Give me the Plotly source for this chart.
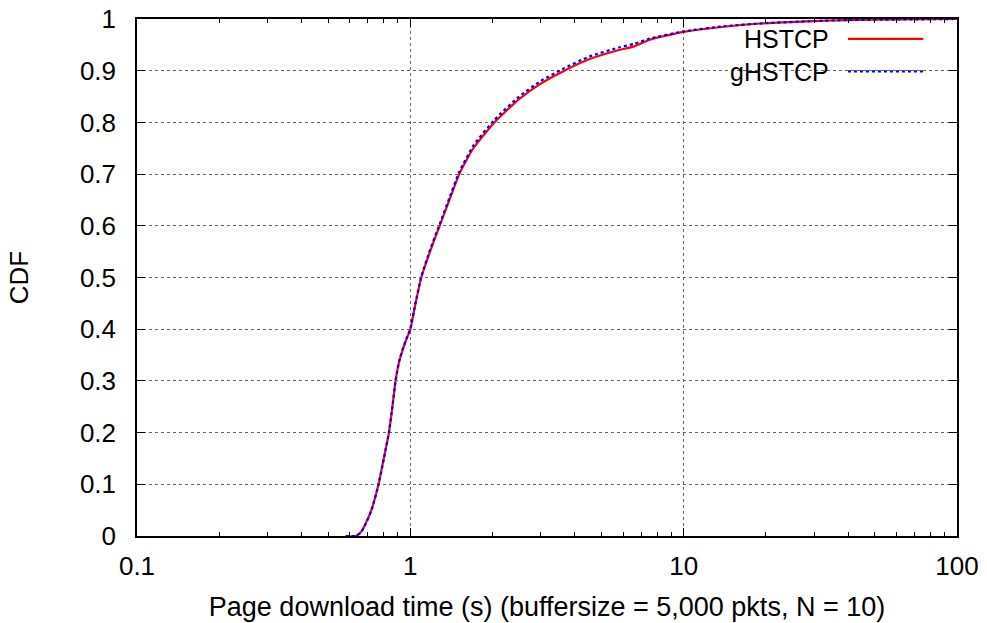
import plotly.graph_objects as go

# Page download time (s) and cumulative fraction for each TCP variant
hstcp_time = [0.58, 0.63, 0.66, 0.68, 0.72, 0.765, 0.80, 0.835, 0.86, 0.883, 0.91, 0.94, 0.97,
              1.0, 1.045, 1.097, 1.18, 1.28, 1.39, 1.51, 1.7, 2.03, 2.5, 3.0, 3.66, 4.5, 5.8,
              6.6, 7.5, 10, 14, 20, 30, 40, 60, 100]
hstcp_cdf = [0, 0, 0.008, 0.02, 0.05, 0.1, 0.15, 0.2, 0.25, 0.3, 0.337, 0.362, 0.382,
             0.4, 0.45, 0.5, 0.55, 0.6, 0.65, 0.7, 0.75, 0.8, 0.845, 0.875, 0.9, 0.922, 0.94,
             0.947, 0.96, 0.975, 0.985, 0.992, 0.996, 0.998, 0.999, 1.0]

ghstcp_time = [0.58, 0.63, 0.66, 0.68, 0.72, 0.765, 0.80, 0.835, 0.86, 0.883, 0.91, 0.94, 0.97,
               1.0, 1.045, 1.097, 1.18, 1.28, 1.39, 1.51, 1.7, 2.03, 2.5, 3.0, 3.66, 4.5, 5.8,
               6.6, 7.5, 10, 14, 20, 30, 40, 60, 100]
ghstcp_cdf = [0, 0, 0.007, 0.019, 0.049, 0.1, 0.15, 0.201, 0.251, 0.301, 0.338, 0.363, 0.383,
              0.401, 0.451, 0.502, 0.553, 0.603, 0.654, 0.704, 0.755, 0.805, 0.85, 0.88, 0.905,
              0.927, 0.945, 0.952, 0.962, 0.976, 0.986, 0.992, 0.996, 0.998, 0.999, 1.0]

series_names = ["HSTCP", "gHSTCP"]
x_ticks = [0.1, 1, 10, 100]
x_tick_text = ["0.1", "1", "10", "100"]
y_ticks = [0, 0.1, 0.2, 0.3, 0.4, 0.5, 0.6, 0.7, 0.8, 0.9, 1]
y_tick_text = ["0", "0.1", "0.2", "0.3", "0.4", "0.5", "0.6", "0.7", "0.8", "0.9", "1"]

FONT = "Liberation Sans, Arial, Helvetica, sans-serif"
FS = 26
TITLE_FS = 27
KEY_FS = 25
RED = "#ff0000"
BLUE = "#0000ff"

fig = go.Figure()
fig.add_trace(go.Scatter(x=hstcp_time, y=hstcp_cdf, mode="lines", name=series_names[0],
                         line=dict(color=RED, width=2.2, shape="spline", smoothing=0.5),
                         showlegend=False))
fig.add_trace(go.Scatter(x=ghstcp_time, y=ghstcp_cdf, mode="lines", name=series_names[1],
                         line=dict(color=BLUE, width=2.2, dash="dot", shape="spline",
                                   smoothing=0.5),
                         showlegend=False))

# Key drawn gnuplot-style: right-aligned names followed by line samples
plot_h = 623 - 19 - 87
row_step = KEY_FS * 1.3 / plot_h          # annotation line spacing in paper units
key_mid = 0.93
key_y = [key_mid + row_step / 2, key_mid - row_step / 2]

fig.add_shape(type="rect", xref="paper", yref="paper", x0=0.715, x1=0.985, y0=0.872, y1=0.985,
              fillcolor="white", line=dict(width=0), layer="between")
fig.add_annotation(x=0.846, y=key_mid, xref="paper", yref="paper",
                   text="<br>".join(series_names), showarrow=False, align="right",
                   xanchor="right", yanchor="middle",
                   font=dict(family=FONT, size=KEY_FS, color="black"))
for yy, col, dash in zip(key_y, [RED, BLUE], ["solid", "dot"]):
    fig.add_shape(type="line", xref="paper", yref="paper", x0=0.867, x1=0.959, y0=yy, y1=yy,
                  line=dict(color=col, width=2.2, dash=dash), layer="above")

axis_common = dict(
    showline=True, linecolor="black", linewidth=1.5, mirror="allticks",
    ticks="inside", ticklen=8, tickwidth=1, tickcolor="black",
    showgrid=True, gridcolor="#666666", griddash="dot", gridwidth=1,
    zeroline=False, automargin=False,
    tickfont=dict(family=FONT, size=FS, color="black"),
)

fig.update_xaxes(type="log", range=[-1, 2], tickvals=x_ticks, ticktext=x_tick_text,
                 minor=dict(ticks="inside", ticklen=4, tickcolor="black", dtick="D1",
                            showgrid=False),
                 title=dict(text="Page download time (s) (buffersize = 5,000 pkts, N = 10)",
                            font=dict(family=FONT, size=TITLE_FS, color="black"), standoff=17),
                 ticklabelstandoff=6, **axis_common)
fig.update_yaxes(range=[0, 1], tickvals=y_ticks, ticktext=y_tick_text,
                 title=dict(text="CDF", font=dict(family=FONT, size=FS, color="black"),
                            standoff=44),
                 ticklabelstandoff=14, **axis_common)

fig.update_layout(width=987, height=623, margin=dict(l=137, r=30, t=19, b=87),
                  plot_bgcolor="white", paper_bgcolor="white",
                  font=dict(family=FONT, size=FS, color="black"))

fig.write_html("out.html")
